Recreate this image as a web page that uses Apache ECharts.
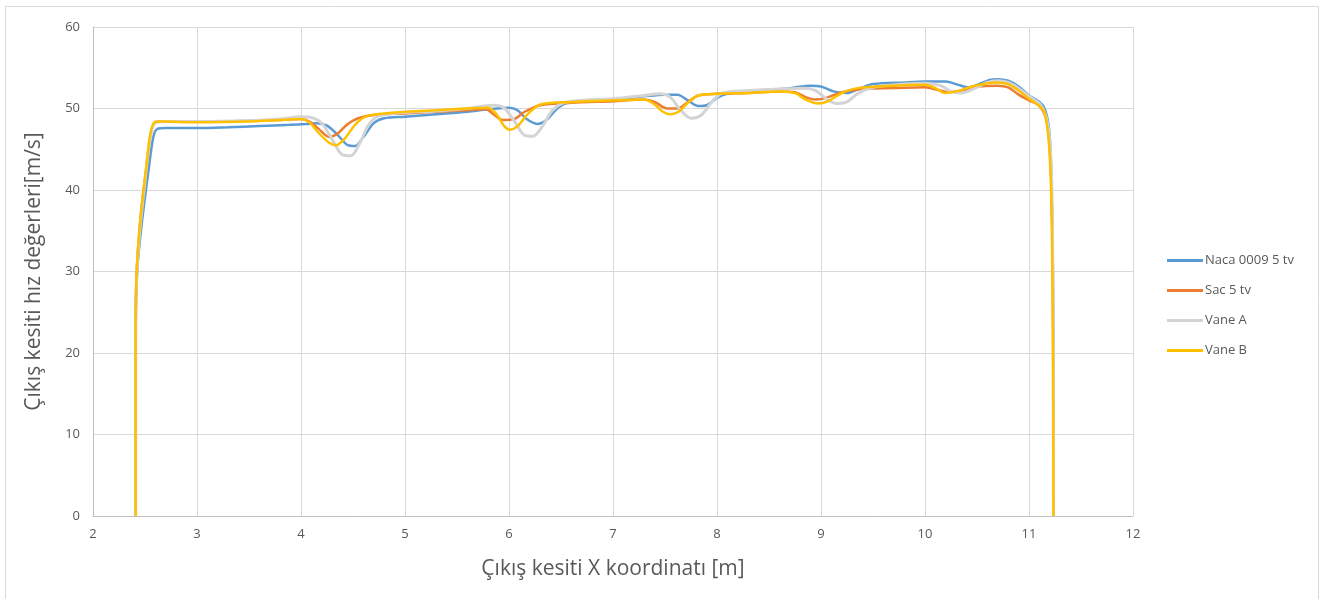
<!DOCTYPE html>
<html>
<head>
<meta charset="utf-8">
<script src="https://cdn.jsdelivr.net/npm/echarts@6/dist/echarts.min.js"></script>
<style>
  html, body { margin: 0; padding: 0; background: #fff; }
  #chart { width: 1331px; height: 599px; }
</style>
</head>
<body>
<div id="chart"></div>
<script>
// Exit-section velocity profiles, [x (m), velocity (m/s)]
const seriesNames = ['Naca 0009 5 tv', 'Sac 5 tv', 'Vane A', 'Vane B'];

const naca = [
  [2.41,0],[2.41,20],[2.415,27],[2.43,31],[2.47,36],[2.53,42],[2.58,46.5],[2.62,47.5],[2.7,47.6],
  [3.0,47.6],[3.3,47.7],[3.6,47.85],[3.9,48.0],[4.05,48.1],[4.15,48.2],[4.25,47.9],[4.35,46.8],
  [4.45,45.5],[4.52,45.4],[4.6,46.5],[4.7,48.2],[4.8,48.8],[5.0,49.0],[5.3,49.3],[5.6,49.6],
  [5.8,49.9],[6.0,50.1],[6.08,49.8],[6.17,48.7],[6.27,48.1],[6.36,48.6],[6.48,50.2],[6.6,50.8],
  [7.0,51.1],[7.3,51.5],[7.5,51.7],[7.62,51.7],[7.72,51.0],[7.82,50.3],[7.9,50.4],[8.0,51.3],
  [8.1,51.8],[8.4,52.2],[8.7,52.5],[8.9,52.8],[9.0,52.7],[9.12,52.1],[9.25,51.9],[9.38,52.5],
  [9.5,53.0],[9.8,53.2],[10.0,53.3],[10.2,53.3],[10.32,52.9],[10.42,52.6],[10.52,53.0],
  [10.62,53.5],[10.7,53.6],[10.8,53.4],[10.9,52.7],[11.0,51.6],[11.1,50.8],[11.15,50.0],
  [11.19,47.8],[11.21,44],[11.22,38],[11.23,30],[11.235,15],[11.235,0]
];

const sac = [
  [2.41,0],[2.41,22],[2.42,30],[2.46,37],[2.51,42.5],[2.55,46.5],[2.59,48.2],[2.65,48.4],
  [3.0,48.4],[3.5,48.5],[3.8,48.6],[4.0,48.7],[4.08,48.4],[4.17,47.5],[4.27,46.5],[4.35,46.9],
  [4.45,48.1],[4.55,48.8],[4.7,49.2],[5.0,49.4],[5.3,49.6],[5.6,49.8],[5.78,49.9],[5.85,49.3],
  [5.94,48.6],[6.05,48.7],[6.15,49.6],[6.3,50.4],[6.6,50.7],[7.0,50.9],[7.3,51.1],[7.4,50.8],
  [7.52,50.0],[7.62,50.0],[7.72,50.8],[7.82,51.6],[8.0,51.8],[8.3,51.9],[8.6,52.1],[8.75,52.0],
  [8.85,51.4],[8.95,51.1],[9.05,51.3],[9.2,52.0],[9.4,52.4],[9.7,52.5],[10.0,52.6],[10.12,52.3],
  [10.22,52.0],[10.35,52.2],[10.5,52.7],[10.7,52.8],[10.8,52.6],[10.9,51.7],[11.0,51.0],
  [11.1,50.3],[11.17,48.5],[11.2,45],[11.22,38],[11.23,28],[11.235,15],[11.235,0]
];

const vaneA = [
  [2.41,0],[2.41,22],[2.42,29],[2.45,35],[2.5,41],[2.55,46.5],[2.6,48.3],[2.7,48.4],[3.0,48.4],
  [3.5,48.5],[3.8,48.7],[4.0,49.0],[4.1,48.9],[4.2,48.2],[4.3,46.2],[4.4,44.3],[4.48,44.2],
  [4.56,45.6],[4.65,48.0],[4.75,49.1],[5.0,49.5],[5.3,49.7],[5.6,50.0],[5.85,50.4],[5.95,50.1],
  [6.05,48.5],[6.15,46.7],[6.23,46.6],[6.32,47.8],[6.42,49.8],[6.55,50.8],[7.0,51.2],[7.3,51.6],
  [7.45,51.8],[7.55,51.4],[7.65,49.8],[7.75,48.8],[7.85,49.2],[7.95,50.8],[8.05,51.9],[8.3,52.2],
  [8.6,52.4],[8.85,52.5],[8.95,52.2],[9.05,51.2],[9.15,50.6],[9.25,50.8],[9.35,51.8],[9.5,52.6],
  [9.8,53.0],[10.0,53.1],[10.15,52.8],[10.25,52.1],[10.35,51.9],[10.45,52.3],[10.6,53.2],
  [10.7,53.4],[10.8,53.2],[10.9,52.5],[11.0,51.5],[11.1,50.6],[11.16,49.2],[11.2,46],[11.22,40],
  [11.23,30],[11.235,15],[11.235,0]
];

const vaneB = [
  [2.41,0],[2.41,22],[2.42,30],[2.46,37],[2.51,42.5],[2.55,46.8],[2.59,48.3],[2.65,48.4],
  [3.0,48.3],[3.5,48.4],[3.8,48.6],[4.0,48.7],[4.08,48.3],[4.17,47],[4.27,45.8],[4.34,45.5],
  [4.42,46.3],[4.52,48.0],[4.62,49.0],[4.8,49.4],[5.0,49.6],[5.3,49.8],[5.6,50.0],[5.8,50.1],
  [5.88,49.3],[5.95,47.9],[6.01,47.4],[6.08,47.8],[6.18,49.3],[6.3,50.5],[6.6,50.8],[7.0,51.0],
  [7.3,51.1],[7.4,50.5],[7.48,49.6],[7.55,49.3],[7.63,49.6],[7.72,50.7],[7.82,51.6],[8.0,51.8],
  [8.3,51.9],[8.6,52.1],[8.75,51.9],[8.85,51.1],[8.97,50.6],[9.07,50.9],[9.2,51.9],[9.35,52.5],
  [9.7,52.8],[10.0,52.9],[10.1,52.5],[10.19,51.9],[10.3,52.1],[10.45,52.7],[10.6,53.1],
  [10.7,53.2],[10.8,53.0],[10.9,52.2],[11.0,51.2],[11.1,50.3],[11.15,49.5],[11.19,46],
  [11.21,41],[11.22,35],[11.23,20],[11.235,0]
];

const xTicks = { min: 2, max: 12, interval: 1 };
const yTicks = { min: 0, max: 60, interval: 10 };
const xTitle = 'Çıkış kesiti X koordinatı [m]';
const yTitle = 'Çıkış kesiti hız değerleri[m/s]';

const colors = ['#5B9BD5', '#ED7D31', '#D4D4D4', '#FFC000'];
const dataSets = [naca, sac, vaneA, vaneB];
const font = '"Open Sans", "Noto Sans", sans-serif';

const chart = echarts.init(document.getElementById('chart'), null, { renderer: 'canvas' });
chart.setOption({
  animation: false,
  backgroundColor: '#ffffff',
  textStyle: { fontFamily: font },
  graphic: [{
    type: 'rect',
    shape: { x: 5.5, y: 6.5, width: 1313, height: 620 },
    style: { fill: 'none', stroke: '#D9D9D9', lineWidth: 1 },
    silent: true
  }],
  grid: { left: 93, right: 198, top: 27, bottom: 83, containLabel: false },
  legend: {
    orient: 'vertical',
    left: 1162,
    top: 249,
    itemWidth: 36,
    itemHeight: 3,
    itemGap: 17,
    icon: 'rect',
    textStyle: { color: '#595959', fontSize: 13, fontFamily: font, padding: [0, 0, 0, -3] },
    data: seriesNames
  },
  xAxis: {
    type: 'value',
    min: xTicks.min, max: xTicks.max, interval: xTicks.interval,
    name: xTitle,
    nameLocation: 'middle',
    nameGap: 43,
    nameTextStyle: { color: '#595959', fontSize: 21, fontFamily: font },
    axisLine: { show: true, onZero: false, lineStyle: { color: '#BFBFBF', width: 1 } },
    axisTick: { show: false },
    axisLabel: { color: '#595959', fontSize: 13, margin: 12 },
    splitLine: { show: true, lineStyle: { color: '#D9D9D9', width: 1 } }
  },
  yAxis: {
    type: 'value',
    min: yTicks.min, max: yTicks.max, interval: yTicks.interval,
    name: yTitle,
    nameLocation: 'middle',
    nameRotate: 90,
    nameGap: 48,
    nameTextStyle: { color: '#595959', fontSize: 21, fontFamily: font },
    axisLine: { show: true, lineStyle: { color: '#BFBFBF', width: 1 } },
    axisTick: { show: false },
    axisLabel: { color: '#595959', fontSize: 13, margin: 13 },
    splitLine: { show: true, lineStyle: { color: '#D9D9D9', width: 1 } }
  },
  series: seriesNames.map((name, i) => ({
    name: name,
    type: 'line',
    data: dataSets[i],
    smooth: 0.3,
    showSymbol: false,
    symbol: 'none',
    color: colors[i],
    lineStyle: { color: colors[i], width: i === 2 ? 3 : 2.5 },
    z: 2 + i
  }))
});
</script>
</body>
</html>
